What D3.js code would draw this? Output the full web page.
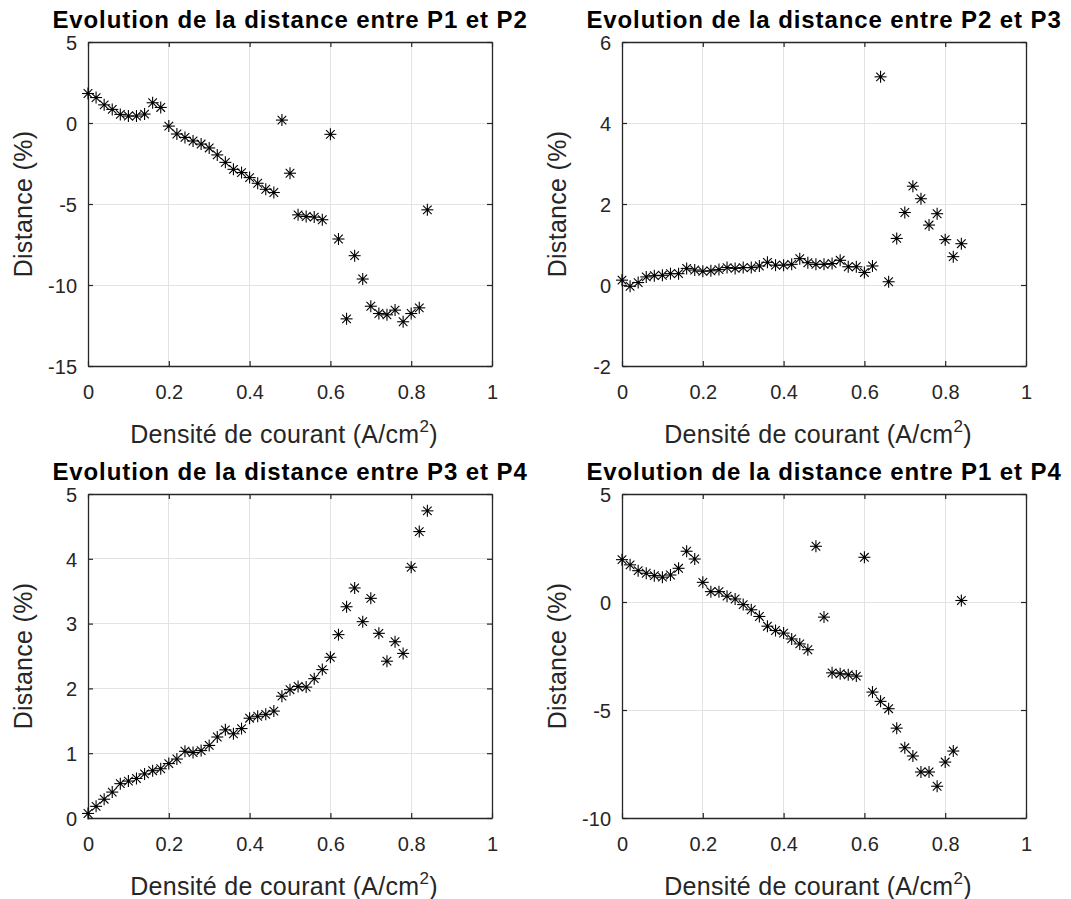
<!DOCTYPE html>
<html>
<head>
<meta charset="utf-8">
<script src="https://cdn.jsdelivr.net/npm/d3@7"></script>
<style>
  html, body { margin: 0; padding: 0; background: #fff; }
  svg { display: block; }
  text { font-family: Arial, "Liberation Sans", Helvetica, sans-serif; }
</style>
</head>
<body>
<svg id="chart" width="1071" height="899"></svg>
<script>
// ---- Data ----
const currentDensity = [0, 0.02, 0.04, 0.06, 0.08, 0.10, 0.12, 0.14, 0.16, 0.18, 0.20, 0.22, 0.24, 0.26, 0.28, 0.30, 0.32, 0.34, 0.36, 0.38, 0.40, 0.42, 0.44, 0.46, 0.48, 0.50, 0.52, 0.54, 0.56, 0.58, 0.60, 0.62, 0.64, 0.66, 0.68, 0.70, 0.72, 0.74, 0.76, 0.78, 0.80, 0.82, 0.84];

const distP1P2 = [1.82, 1.57, 1.12, 0.84, 0.53, 0.43, 0.43, 0.55, 1.25, 0.96, -0.19, -0.68, -0.89, -1.11, -1.30, -1.54, -1.97, -2.43, -2.86, -3.06, -3.37, -3.72, -4.09, -4.29, 0.18, -3.10, -5.67, -5.77, -5.81, -5.97, -0.70, -7.16, -12.09, -8.19, -9.63, -11.31, -11.76, -11.84, -11.55, -12.27, -11.76, -11.41, -5.36];

const distP2P3 = [0.12, -0.03, 0.06, 0.20, 0.23, 0.24, 0.28, 0.28, 0.41, 0.37, 0.34, 0.35, 0.38, 0.43, 0.41, 0.43, 0.43, 0.47, 0.56, 0.49, 0.49, 0.51, 0.65, 0.55, 0.51, 0.51, 0.53, 0.61, 0.45, 0.45, 0.31, 0.47, 5.14, 0.08, 1.15, 1.79, 2.44, 2.13, 1.48, 1.76, 1.12, 0.70, 1.02];

const distP3P4 = [0.07, 0.18, 0.29, 0.40, 0.53, 0.57, 0.61, 0.68, 0.73, 0.76, 0.84, 0.91, 1.03, 1.01, 1.04, 1.12, 1.25, 1.36, 1.30, 1.38, 1.54, 1.57, 1.60, 1.65, 1.88, 1.98, 2.03, 2.02, 2.15, 2.29, 2.48, 2.83, 3.26, 3.55, 3.03, 3.39, 2.85, 2.42, 2.72, 2.54, 3.87, 4.42, 4.74];

const distP1P4 = [1.96, 1.72, 1.45, 1.33, 1.22, 1.15, 1.25, 1.56, 2.35, 1.99, 0.91, 0.48, 0.48, 0.27, 0.14, -0.12, -0.36, -0.67, -1.12, -1.32, -1.44, -1.71, -1.94, -2.21, 2.58, -0.70, -3.28, -3.32, -3.37, -3.43, 2.07, -4.17, -4.60, -4.94, -5.84, -6.75, -7.13, -7.87, -7.87, -8.53, -7.41, -6.90, 0.07];

const xTicks = [0, 0.2, 0.4, 0.6, 0.8, 1];
const yTicksP1P2 = [-15, -10, -5, 0, 5];
const yTicksP2P3 = [-2, 0, 2, 4, 6];
const yTicksP3P4 = [0, 1, 2, 3, 4, 5];
const yTicksP1P4 = [-10, -5, 0, 5];

const titles = [
  "Evolution de la distance entre P1 et P2",
  "Evolution de la distance entre P2 et P3",
  "Evolution de la distance entre P3 et P4",
  "Evolution de la distance entre P1 et P4"
];
const xLabelMain = "Densité de courant (A/cm";
const xLabelSup = "2";
const yLabel = "Distance (%)";

// ---- Layout ----
const panels = [
  { data: distP1P2, ticks: yTicksP1P2, title: titles[0], left: 88, top: 42 },
  { data: distP2P3, ticks: yTicksP2P3, title: titles[1], left: 622, top: 42 },
  { data: distP3P4, ticks: yTicksP3P4, title: titles[2], left: 88, top: 494 },
  { data: distP1P4, ticks: yTicksP1P4, title: titles[3], left: 622, top: 494 }
];
const W = 404, H = 324;
const axisColor = "#262626";
const gridColor = "#e3e3e3";

const svg = d3.select("#chart");

panels.forEach(p => {
  const g = svg.append("g").attr("transform", `translate(${p.left},${p.top})`);
  const x = d3.scaleLinear().domain([0, 1]).range([0, W]);
  const yExt = d3.extent(p.ticks);
  const y = d3.scaleLinear().domain(yExt).range([H, 0]);

  // grid
  g.append("g").selectAll("line.vg").data(xTicks.slice(1, -1)).join("line")
    .attr("x1", d => x(d)).attr("x2", d => x(d)).attr("y1", 0).attr("y2", H)
    .attr("stroke", gridColor).attr("stroke-width", 1).attr("shape-rendering", "crispEdges");
  g.append("g").selectAll("line.hg").data(p.ticks.slice(1, -1)).join("line")
    .attr("y1", d => y(d)).attr("y2", d => y(d)).attr("x1", 0).attr("x2", W)
    .attr("stroke", gridColor).attr("stroke-width", 1).attr("shape-rendering", "crispEdges");

  // axes with inward ticks
  const fmt = d => String(d);
  const bottom = g.append("g").attr("transform", `translate(0,${H})`)
    .call(d3.axisBottom(x).tickValues(xTicks).tickSizeInner(-5).tickSizeOuter(0).tickPadding(0).tickFormat(fmt));
  const top = g.append("g")
    .call(d3.axisTop(x).tickValues(xTicks).tickSizeInner(-5).tickSizeOuter(0).tickFormat(""));
  const left = g.append("g")
    .call(d3.axisLeft(y).tickValues(p.ticks).tickSizeInner(-5).tickSizeOuter(0).tickFormat(fmt));
  const right = g.append("g").attr("transform", `translate(${W},0)`)
    .call(d3.axisRight(y).tickValues(p.ticks).tickSizeInner(-5).tickSizeOuter(0).tickFormat(""));

  [bottom, top, left, right].forEach(a => {
    a.select(".domain").attr("stroke", axisColor).attr("stroke-width", 1.3);
    a.selectAll(".tick line").attr("stroke", axisColor).attr("stroke-width", 1.2);
  });
  bottom.selectAll(".tick text")
    .attr("fill", axisColor).attr("font-size", 20).attr("dy", null)
    .attr("y", 33).style("dominant-baseline", "alphabetic");
  left.selectAll(".tick text")
    .attr("fill", axisColor).attr("font-size", 20)
    .attr("x", -11).attr("dy", "0.36em");

  // title
  g.append("text")
    .attr("x", W / 2).attr("y", -14)
    .attr("text-anchor", "middle")
    .attr("font-size", 24).attr("font-weight", "bold").attr("fill", "#000")
    .attr("letter-spacing", "0.9px")
    .text(p.title);

  // x label
  const xl = g.append("text")
    .attr("x", W / 2 - 6).attr("y", H + 77)
    .attr("text-anchor", "middle")
    .attr("font-size", 25).attr("fill", axisColor)
    .attr("letter-spacing", "0.3px");
  xl.append("tspan").text(xLabelMain);
  xl.append("tspan").attr("dy", -11).attr("font-size", 17).text(xLabelSup);
  xl.append("tspan").attr("dy", 11).text(")");

  // y label
  g.append("text")
    .attr("transform", `translate(-56,${H / 2}) rotate(-90)`)
    .attr("text-anchor", "middle")
    .attr("font-size", 25).attr("fill", axisColor)
    .attr("letter-spacing", "0.3px")
    .text(yLabel);

  // asterisk markers
  const r = 6, rd = 4.3;
  const pts = p.data.map((v, i) => [currentDensity[i], v]);
  const mk = g.append("g").selectAll("g").data(pts).join("g")
    .attr("transform", d => `translate(${x(d[0])},${y(d[1])})`);
  const segs = [[-r, 0, r, 0], [0, -r, 0, r], [-rd, -rd, rd, rd], [-rd, rd, rd, -rd]];
  segs.forEach(s => {
    mk.append("line")
      .attr("x1", s[0]).attr("y1", s[1]).attr("x2", s[2]).attr("y2", s[3])
      .attr("stroke", "#000").attr("stroke-width", 1.1);
  });
  mk.append("circle").attr("r", 1.4).attr("fill", "#000");
});
</script>
</body>
</html>
